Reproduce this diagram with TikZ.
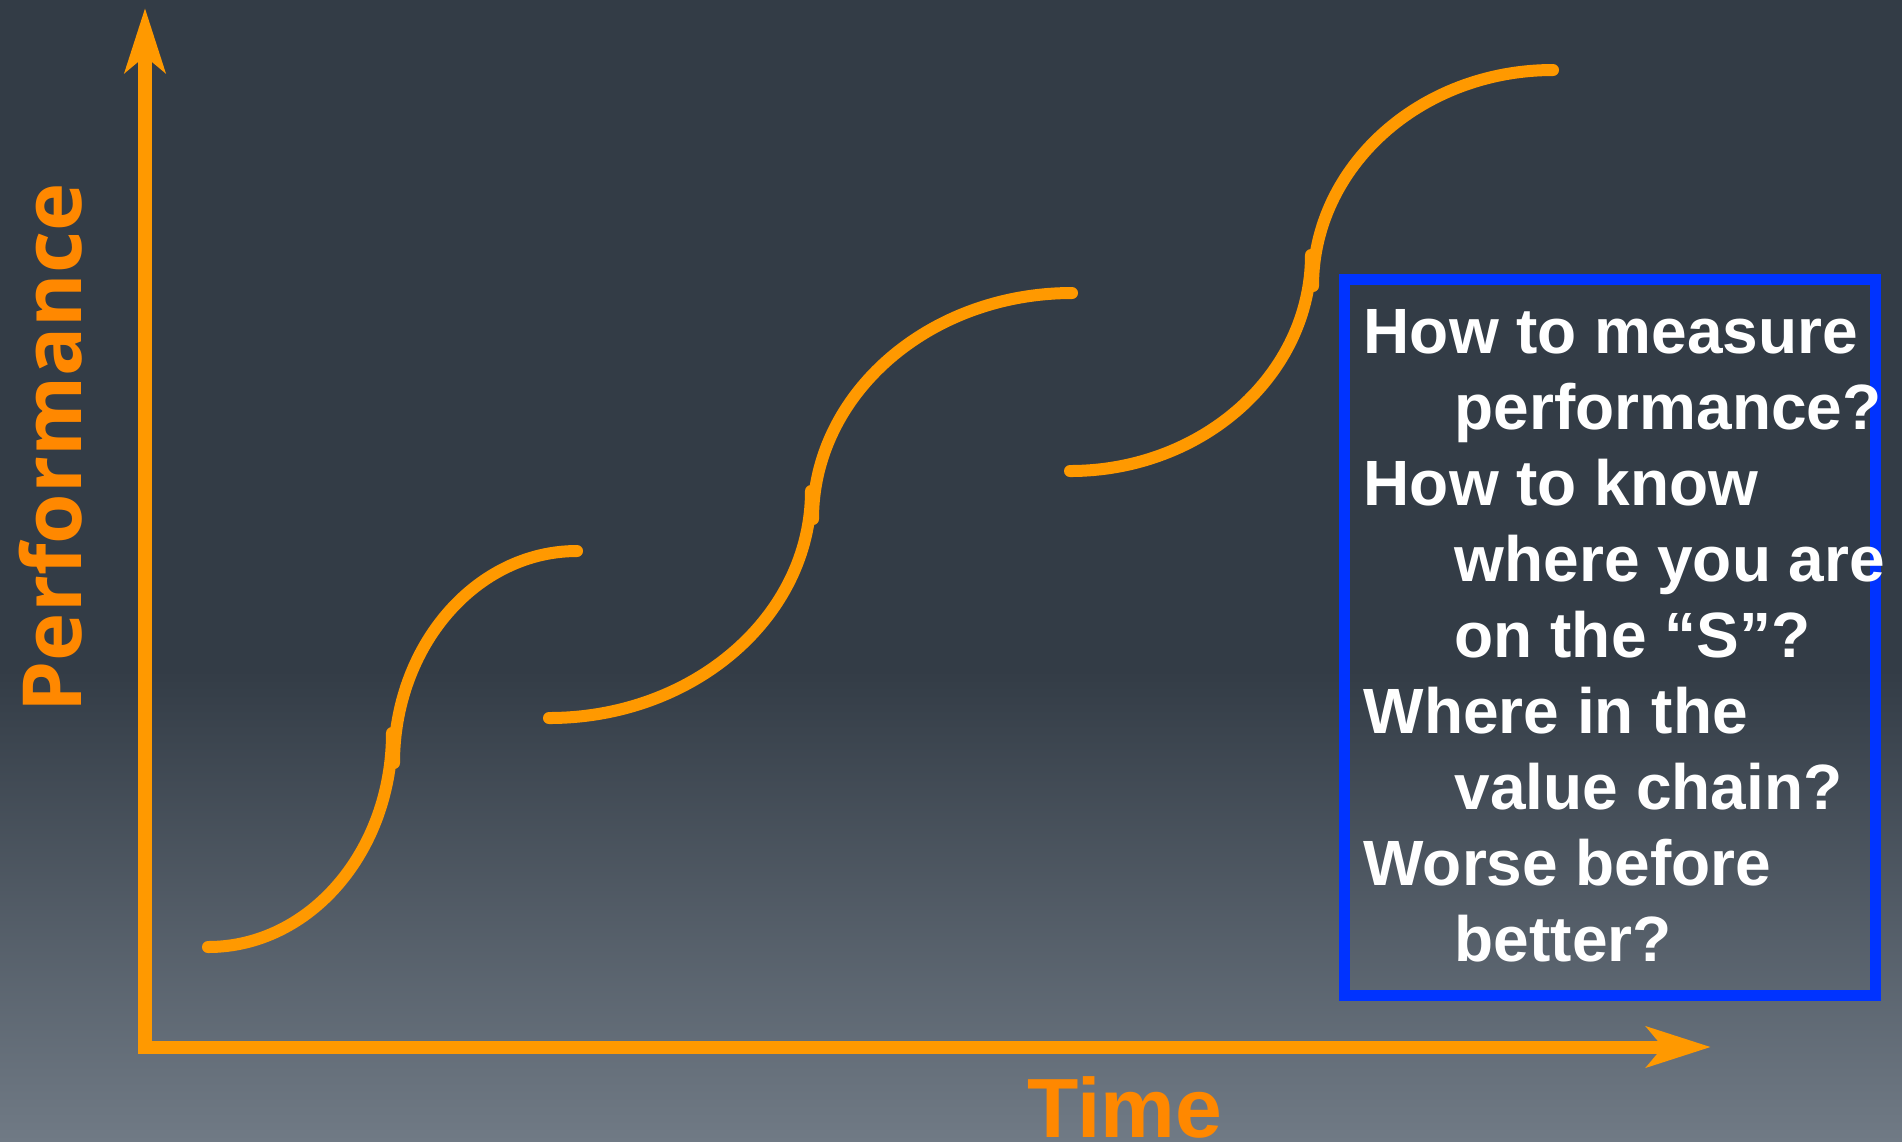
\documentclass[tikz,border=0pt]{standalone}
\usepackage{fontspec}
\setmainfont{Liberation Sans}
\newfontfamily\perffont{Open Sans}
\usetikzlibrary{arrows.meta}
\definecolor{bgtop}{RGB}{51,60,70}
\definecolor{bgbot}{RGB}{112,122,133}
\definecolor{axisorange}{RGB}{255,153,0}
\definecolor{labelorange}{RGB}{255,136,0}
\definecolor{boxblue}{RGB}{0,51,255}
\tikzset{
  axisline/.style={axisorange, line width=0.13cm, line join=miter,
    {Stealth[length=0.64cm,width=0.40cm,inset=0.16cm]}-{Stealth[length=0.64cm,width=0.40cm,inset=0.16cm]}},
  scurve/.style={axisorange, line width=0.12cm, line cap=round},
  qtext/.style={text=white, font=\fontsize{18.2pt}{21.8pt}\selectfont\bfseries, anchor=base west, inner sep=0pt},
  qbox/.style={draw=boxblue, line width=0.11cm, anchor=north west, inner sep=0pt, outer sep=0pt, minimum width=5.31cm, minimum height=7.16cm},
}
\begin{document}
\begin{tikzpicture}[x=0.01cm,y=-0.01cm]
\useasboundingbox (0,0) rectangle (1902,1141);
% background
\fill[bgtop] (0,0) rectangle (1902,671);
\shade[top color=bgtop,bottom color=bgbot] (0,670) rectangle (1902,1141);

% box
\node[qbox] (box) at (1344.5,279) {};

% axes
\coordinate (ytip) at (145,8);
\coordinate (origin) at (145,1047);
\coordinate (xtip) at (1711,1047);
\draw[axisline] (ytip) -- (origin) -- (xtip);

% S curves
\draw[scurve] (208,947) .. controls (310,947) and (392,851) .. (392,733);
\draw[scurve] (394,763) .. controls (394,646) and (476,551) .. (577,551);

\draw[scurve] (549,718) .. controls (694,718) and (811,616) .. (811,491);
\draw[scurve] (813,519) .. controls (813,394) and (929,293) .. (1072,293);

\draw[scurve] (1070,471) .. controls (1203,471) and (1311,374) .. (1311,255);
\draw[scurve] (1313,286) .. controls (1313,167) and (1420,70) .. (1553,70);

% axis labels
\node[text=labelorange, font=\perffont\bfseries\fontsize{23.2pt}{28pt}\selectfont, rotate=90, anchor=base west, inner sep=0pt] (perf) at (81,713) {Performance};
\node[text=labelorange, font=\fontsize{23.9pt}{28pt}\selectfont\bfseries, anchor=base west, inner sep=0pt] (time) at (1027,1137) {Time};

% questions
\node[qtext] (q1) at (1363,353) {How to measure};
\node[qtext] (q2) at (1454,429) {performance?};
\node[qtext] (q3) at (1363,505) {How to know};
\node[qtext] (q4) at (1454,581) {where you are};
\node[qtext] (q5) at (1454,657) {on the “S”?};
\node[qtext] (q6) at (1363,733) {Where in the};
\node[qtext] (q7) at (1454,809) {value chain?};
\node[qtext] (q8) at (1363,885) {Worse before};
\node[qtext] (q9) at (1454,961) {better?};
\end{tikzpicture}
\end{document}
